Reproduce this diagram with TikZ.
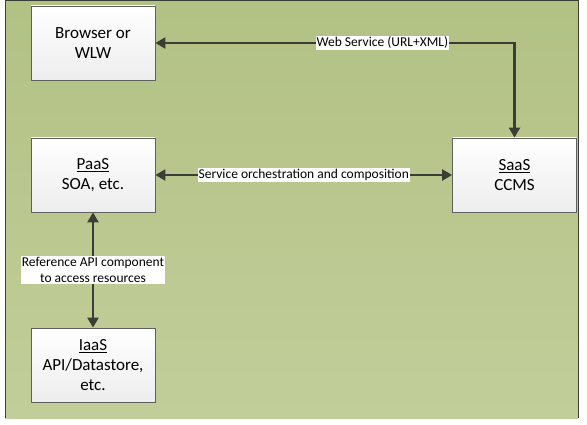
\documentclass[tikz,border=0pt]{standalone}
\usepackage{fontspec}
\setmainfont{Carlito}
\usetikzlibrary{arrows.meta}

\definecolor{panelTop}{RGB}{178,193,132}
\definecolor{panelBottom}{RGB}{194,206,154}
\definecolor{linkGray}{RGB}{58,62,52}
\definecolor{boxLine}{RGB}{95,95,95}

\tikzset{
  layerbox/.style={draw=boxLine, line width=0.8pt, top color=white, bottom color=gray!14,
    minimum width=124pt, minimum height=74pt, inner sep=0pt, align=center,
    font=\fontsize{17}{20}\selectfont},
  link/.style={draw=linkGray, line width=2.3pt,
    {Triangle[width=11pt,length=10pt]}-{Triangle[width=11pt,length=10pt]}},
  linklabel/.style={fill=white, inner sep=1pt, align=center,
    font=\fontsize{13.5}{16}\selectfont}
}

\begin{document}
\begin{tikzpicture}[x=1pt,y=-1pt]
\useasboundingbox (0,0) rectangle (587,425);

% green panel
\shade[top color=panelTop, bottom color=panelBottom] (5,1) rectangle (578,418);
\draw[line width=1pt, linkGray] (5,418) -- (5,1) -- (578,1) -- (578,418);

% layers
\node[layerbox] (browser) at (93,43)    {Browser or\\WLW};
\node[layerbox] (paas)    at (93,175)   {\underline{PaaS}\\SOA, etc.};
\node[layerbox] (saas)    at (514.5,175) {\underline{SaaS}\\CCMS};
\node[layerbox] (iaas)    at (93,365)   {\underline{IaaS}\\API/Datastore,\\etc.};

% connectors
\draw[link] (saas.north) |- (browser.east)
  node[linklabel, pos=0.684] {Web Service (URL+XML)};
\draw[link] (paas.east) -- (saas.west)
  node[linklabel, midway] {Service orchestration and composition};
\draw[link] (paas.south) -- (iaas.north)
  node[linklabel, midway] {Reference API component\\to access resources};

\end{tikzpicture}
\end{document}
